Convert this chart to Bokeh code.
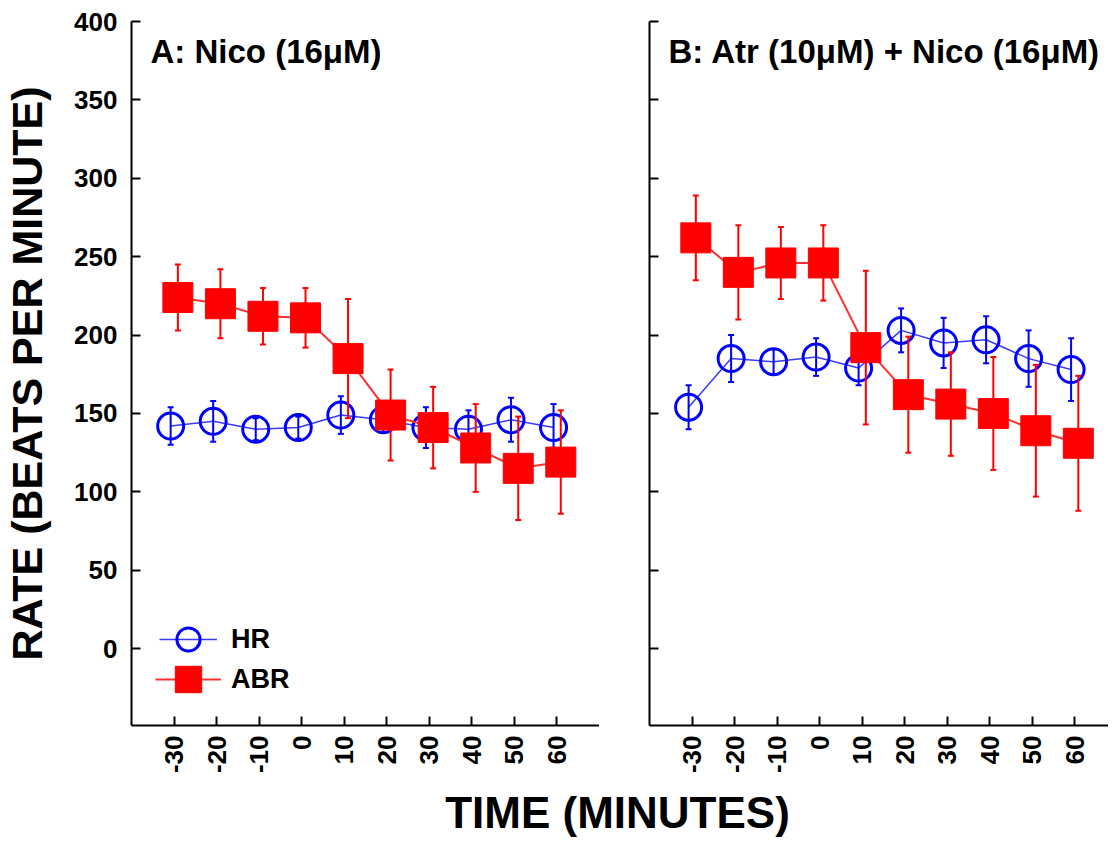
import math
from bokeh.plotting import figure
from bokeh.models import ColumnDataSource, Range1d, FixedTicker, Label, Legend, LegendItem
from bokeh.layouts import row, column
from bokeh.transform import dodge
from bokeh.embed import file_html
from bokeh.resources import INLINE

# ---- data ----
time_min = [-30, -20, -10, 0, 10, 20, 30, 40, 50, 60]

a_hr = [142, 145, 140, 141, 149, 146, 141, 140, 146, 141]
a_hr_err = [12, 13, 7, 7, 12, 8, 13, 12, 14, 15]
a_abr = [224, 220, 212, 211, 185, 149, 141, 128, 115, 119]
a_abr_err = [21, 22, 18, 19, 38, 29, 26, 28, 33, 33]

b_hr = [154, 185, 183, 186, 179, 203, 195, 197, 185, 178]
b_hr_err = [14, 15, 8, 12, 11, 14, 16, 15, 18, 20]
b_abr = [262, 240, 246, 246, 192, 162, 156, 150, 139, 131]
b_abr_err = [27, 30, 23, 24, 49, 37, 33, 36, 42, 43]

y_ticks = [0, 50, 100, 150, 200, 250, 300, 350, 400]
series_names = ["HR", "ABR"]
panel_titles = ["A: Nico (16\u03bcM)", "B: Atr (10\u03bcM) + Nico (16\u03bcM)"]
y_title = "RATE (BEATS PER MINUTE)"
x_title = "TIME (MINUTES)"

FONT = "Liberation Sans"
BLUE = "#0000ff"
RED = "#ff0000"


def make_panel(title, hr, hr_err, abr, abr_err, x_end, frame_w, left_border, first):
    src = ColumnDataSource(dict(
        t=time_min,
        hr=hr, hr_lo=[v - e for v, e in zip(hr, hr_err)], hr_hi=[v + e for v, e in zip(hr, hr_err)],
        abr=abr, abr_lo=[v - e for v, e in zip(abr, abr_err)], abr_hi=[v + e for v, e in zip(abr, abr_err)],
    ))
    p = figure(frame_width=frame_w, frame_height=704,
               x_range=Range1d(-40, x_end), y_range=Range1d(-49, 400),
               output_backend="svg", toolbar_location=None,
               min_border_left=left_border, min_border_right=0,
               min_border_top=21, min_border_bottom=62)
    p.grid.visible = False
    p.outline_line_color = None
    p.background_fill_color = "white"

    hx = dodge("t", -0.8)
    ax = dodge("t", 0.9)

    # HR series
    hr_line = p.line(x=hx, y="hr", source=src, line_color="#3a3aff", line_width=1.5)
    p.segment(x0=hx, y0="hr_lo", x1=hx, y1="hr_hi", source=src, line_color=BLUE, line_width=2)
    p.scatter(x=hx, y="hr_lo", source=src, marker="dash", size=6, line_color=BLUE, line_width=2)
    p.scatter(x=hx, y="hr_hi", source=src, marker="dash", size=6, line_color=BLUE, line_width=2)
    hr_pts = p.scatter(x=hx, y="hr", source=src, marker="circle", size=26,
                       fill_alpha=0, line_color=BLUE, line_width=3)

    # ABR series
    abr_line = p.line(x=ax, y="abr", source=src, line_color="#ff3030", line_width=2)
    p.segment(x0=ax, y0="abr_lo", x1=ax, y1="abr_hi", source=src, line_color=RED, line_width=2)
    p.scatter(x=ax, y="abr_lo", source=src, marker="dash", size=6, line_color=RED, line_width=2)
    p.scatter(x=ax, y="abr_hi", source=src, marker="dash", size=6, line_color=RED, line_width=2)
    abr_pts = p.scatter(x=ax, y="abr", source=src, marker="square", size=30,
                        fill_color=RED, line_color=RED, line_width=1)

    # axes
    p.xaxis.ticker = FixedTicker(ticks=time_min)
    p.yaxis.ticker = FixedTicker(ticks=y_ticks)
    for ax_ in (p.xaxis, p.yaxis):
        ax_.axis_line_width = 2
        ax_.axis_line_color = "black"
        ax_.major_tick_line_width = 2
        ax_.major_tick_line_color = "black"
        ax_.major_tick_in = 9
        ax_.major_tick_out = 0
        ax_.minor_tick_line_color = None
        ax_.major_label_text_font = FONT
        ax_.major_label_text_font_style = "bold"
        ax_.major_label_text_font_size = "26px"
        ax_.major_label_text_color = "black"
    p.xaxis.major_label_orientation = math.pi / 2
    p.xaxis.major_label_overrides = {t: str(t) for t in time_min}
    p.xaxis.major_label_standoff = 10
    p.yaxis.major_label_standoff = 14

    if first:
        p.yaxis.axis_label = y_title
        p.yaxis.axis_label_text_font = FONT
        p.yaxis.axis_label_text_font_style = "bold"
        p.yaxis.axis_label_text_font_size = "43px"
        p.yaxis.axis_label_text_color = "black"
        p.yaxis.axis_label_standoff = 20
        common = dict(padding=0, margin=0, label_text_font=FONT, label_text_font_style="bold",
                      label_text_font_size="27px", label_text_color="black",
                      border_line_alpha=0, background_fill_alpha=0)
        leg_hr = Legend(items=[LegendItem(label=series_names[0], renderers=[hr_line, hr_pts])],
                        location=(28, 57), glyph_width=58, glyph_height=58, label_standoff=14, **common)
        leg_abr = Legend(items=[LegendItem(label=series_names[1], renderers=[abr_line, abr_pts])],
                         location=(24, 11), glyph_width=66, glyph_height=70, label_standoff=10, **common)
        p.add_layout(leg_hr, "center")
        p.add_layout(leg_abr, "center")
    else:
        p.yaxis.major_label_overrides = {v: "" for v in y_ticks}
        p.yaxis.major_label_standoff = 0

    p.add_layout(Label(x=19, y=674, x_units="screen", y_units="screen", text=title,
                       text_font=FONT, text_font_style="bold", text_font_size="33px",
                       text_baseline="middle", text_color="black"))
    return p


pA = make_panel(panel_titles[0], a_hr, a_hr_err, a_abr, a_abr_err, 70, 468, 127, True)
pB = make_panel(panel_titles[1], b_hr, b_hr_err, b_abr, b_abr_err, 68, 459, 50, False)

pt = figure(width=1104, height=52, toolbar_location=None, output_backend="svg",
            x_axis_location=None, y_axis_location=None, min_border=0,
            x_range=Range1d(0, 1), y_range=Range1d(0, 1))
pt.outline_line_color = None
pt.grid.visible = False
pt.add_layout(Label(x=617, y=27, x_units="screen", y_units="screen", text=x_title,
                    text_font=FONT, text_font_style="bold", text_font_size="44px",
                    text_align="center", text_baseline="middle", text_color="black"))

layout = column(row(pA, pB, spacing=0), pt, spacing=0)
open("out.html", "w").write(file_html(layout, INLINE))
